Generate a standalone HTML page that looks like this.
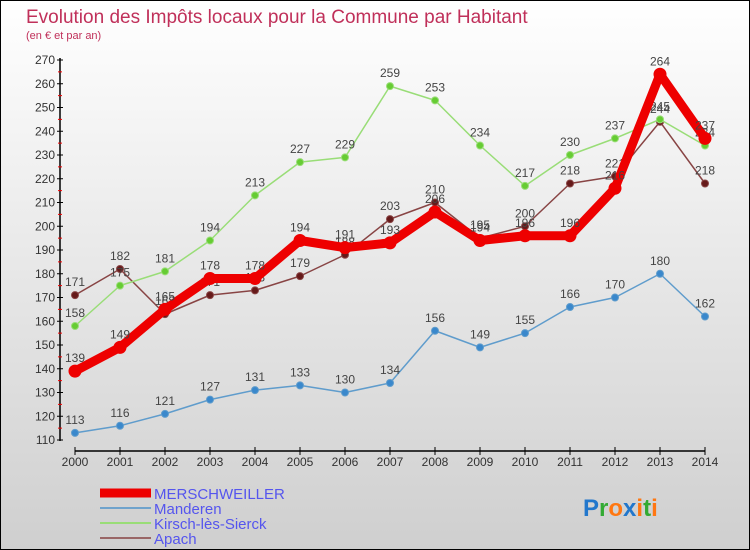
<!DOCTYPE html>
<html><head><meta charset="utf-8"><style>
body{margin:0;width:750px;height:550px;overflow:hidden}
svg{display:block;font-family:"Liberation Sans",sans-serif}
</style></head><body>
<svg id="c" width="750" height="550">
<defs><linearGradient id="bg" x1="0" y1="0" x2="0" y2="1"><stop offset="0" stop-color="#ffffff"/><stop offset="1" stop-color="#cfcfcf"/></linearGradient></defs>
<rect x="0.5" y="0.5" width="749" height="549" fill="url(#bg)" stroke="#000"/>
<text x="26" y="23" font-size="19" fill="#c0305a">Evolution des Impôts locaux pour la Commune par Habitant</text>
<text x="26" y="39" font-size="11" fill="#c0305a">(en € et par an)</text>
<g id="axes"></g><g id="series"></g>
<g>
<line x1="100" y1="493" x2="151" y2="493" stroke="#ee0000" stroke-width="9"/>
<text x="154" y="499" font-size="15" fill="#5555ee">MERSCHWEILLER</text>
<line x1="100" y1="508" x2="151" y2="508" stroke="#6fa3cc" stroke-width="2"/>
<text x="154" y="514" font-size="15" fill="#5555ee">Manderen</text>
<line x1="100" y1="523" x2="151" y2="523" stroke="#99dd77" stroke-width="2"/>
<text x="154" y="529" font-size="15" fill="#5555ee">Kirsch-lès-Sierck</text>
<line x1="100" y1="538" x2="151" y2="538" stroke="#996666" stroke-width="2"/>
<text x="154" y="544" font-size="15" fill="#5555ee">Apach</text>
</g>
<g font-size="24" font-weight="bold">
<text x="583" y="516"><tspan fill="#2277cc">P</tspan><tspan fill="#33aa33">r</tspan><tspan fill="#ff7711">o</tspan><tspan fill="#2277cc">x</tspan><tspan fill="#ff7711">i</tspan><tspan fill="#33aa33">t</tspan><tspan fill="#ff7711">i</tspan></text>
</g>
</svg>
<script>
const years=[2000,2001,2002,2003,2004,2005,2006,2007,2008,2009,2010,2011,2012,2013,2014];
const yTicks=[110,120,130,140,150,160,170,180,190,200,210,220,230,240,250,260,270];
const merschweiller=[139,149,165,178,178,194,191,193,206,194,196,196,216,264,237];
const manderen=[113,116,121,127,131,133,130,134,156,149,155,166,170,180,162];
const kirsch=[158,175,181,194,213,227,229,259,253,234,217,230,237,245,234];
const apach=[171,182,163,171,173,179,188,203,210,195,200,218,221,244,218];
const NS="http://www.w3.org/2000/svg";
const x=i=>75+i*45;
const y=v=>440-(v-110)*(380/160);
function mk(tag,attrs,parent){const e=document.createElementNS(NS,tag);for(const k in attrs)e.setAttribute(k,attrs[k]);parent.appendChild(e);return e;}
const ax=document.getElementById('axes');
const yAxis=mk('line',{x1:60,y1:58,x2:60,y2:441,stroke:'#000','stroke-width':1.5},ax);


yTicks.forEach(t=>{
 const tl=mk('line',{x1:57,x2:63,y1:y(t),y2:y(t),stroke:'#000'},ax);
 
 
 if(t<270){const m=mk('line',{x1:58,x2:62,y1:y(t+5),y2:y(t+5),stroke:'#e00'},ax);
 
 }
 const tx=mk('text',{x:55,y:y(t)+4,'text-anchor':'end','font-size':12,fill:'#333'},ax);
 tx.textContent=t;
 
 
});
const xAxis=mk('line',{x1:75,y1:451,x2:705,y2:451,stroke:'#000','stroke-width':1.5},ax);


years.forEach((yr,i)=>{
 const tl=mk('line',{x1:x(i),x2:x(i),y1:447,y2:455,stroke:'#000'},ax);
 
 
 const tx=mk('text',{x:x(i),y:466,'text-anchor':'middle','font-size':12,fill:'#333'},ax);
 tx.textContent=yr;
 
 
});
const sg=document.getElementById('series');
function draw(data,name,color,w,r,dot){
 const g=mk('g',{},sg);
 
 
 const p=mk('polyline',{points:data.map((v,i)=>x(i)+','+y(v)).join(' '),fill:'none',stroke:color,'stroke-width':w,'stroke-linejoin':'round'},g);
 
 
 data.forEach((v,i)=>{
  const c=mk('circle',{cx:x(i),cy:y(v),r:r,fill:dot,stroke:color},g);
  
  
  const t=mk('text',{x:x(i),y:y(v)-9,'text-anchor':'middle','font-size':12,fill:'#444'},g);
  t.textContent=v;
  
  
 });
}
draw(apach,'apach','#884444',1.5,3.5,'#661a1a');
draw(kirsch,'kirsch','#99dd77',1.5,3.5,'#66cc33');
draw(manderen,'manderen','#5f9ccc',1.5,3.5,'#3a88cc');
draw(merschweiller,'merschweiller','#ee0000',9,6,'#ee0000');
</script>
</body></html>
